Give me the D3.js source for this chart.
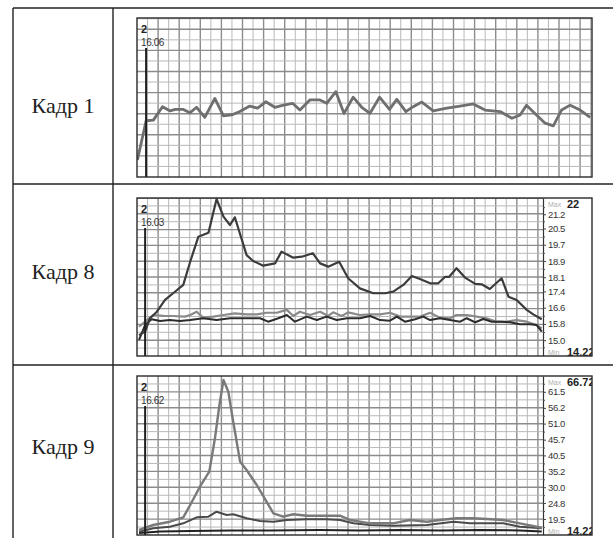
<!DOCTYPE html>
<html>
<head>
<meta charset="utf-8">
<script src="https://cdn.jsdelivr.net/npm/d3@7"></script>
<style>
  body { margin: 0; background: #fff; }
  .lbl { font-family: "Liberation Sans Narrow", "Arial Narrow", "Liberation Sans", sans-serif; }
</style>
</head>
<body>
<script>
// row labels and cursor readouts
const frameNames = ["Кадр 1", "Кадр 8", "Кадр 9"];
const cursorIds = ["2", "2", "2"];
const cursorValues = ["16.06", "16.03", "16.62"];

// Кадр 1 — one trace, no scale shown
const f1Time = [0.1, 2.0, 3.6, 5.6, 7.3, 8.4, 10.2, 11.6, 13.1, 14.9, 17.1, 19.0, 20.8, 22.6, 24.8, 26.5, 28.3, 30.3, 32.2, 34.2, 35.8, 38.0, 40.2, 41.7, 43.7, 45.5, 47.5, 49.4, 51.2, 53.3, 55.5, 57.1, 59.1, 60.7, 62.6, 65.1, 68.1, 71.0, 73.9, 76.5, 79.8, 82.4, 84.2, 85.6, 87.8, 89.7, 91.5, 93.3, 95.2, 97.4, 99.6];
const f1Temp = [14.78, 16.06, 16.08, 16.52, 16.38, 16.43, 16.43, 16.32, 16.50, 16.17, 16.79, 16.22, 16.25, 16.36, 16.54, 16.47, 16.68, 16.50, 16.57, 16.63, 16.41, 16.74, 16.74, 16.63, 17.01, 16.30, 16.83, 16.50, 16.30, 16.83, 16.43, 16.76, 16.36, 16.52, 16.67, 16.38, 16.47, 16.54, 16.61, 16.41, 16.36, 16.14, 16.25, 16.57, 16.25, 15.98, 15.89, 16.41, 16.57, 16.41, 16.17];

// Кадр 8 — three traces
const f8TimeA = [0.5, 2.0, 3.2, 4.9, 6.9, 8.9, 11.4, 13.1, 15.1, 17.6, 19.6, 21.3, 22.9, 24.1, 27.0, 28.6, 31.1, 34.0, 35.6, 38.5, 40.6, 43.3, 45.1, 47.1, 49.8, 52.0, 54.9, 58.2, 61.1, 63.1, 65.6, 67.7, 69.7, 72.2, 74.2, 75.9, 76.9, 78.7, 80.8, 83.3, 84.9, 86.9, 89.8, 91.5, 93.5, 96.0, 97.6, 99.7];
const f8TempA = [15.25, 15.42, 16.08, 16.40, 16.98, 17.31, 17.72, 18.86, 20.09, 20.29, 21.95, 21.08, 20.67, 21.05, 19.19, 18.90, 18.67, 18.78, 19.36, 19.06, 19.11, 19.28, 18.78, 18.62, 18.86, 18.05, 17.55, 17.31, 17.31, 17.39, 17.72, 18.16, 18.01, 17.80, 17.80, 18.12, 18.12, 18.54, 18.08, 17.77, 17.75, 17.52, 18.05, 17.14, 16.98, 16.49, 16.27, 16.03];
const f8TimeB = [0.5, 2.0, 4.0, 6.5, 8.9, 11.8, 13.1, 14.7, 16.3, 18.8, 21.3, 24.1, 27.0, 29.5, 31.9, 34.4, 36.9, 38.5, 40.1, 42.6, 45.1, 47.1, 48.3, 50.4, 52.0, 54.9, 57.4, 59.9, 62.3, 64.8, 67.2, 69.7, 72.2, 74.6, 77.1, 78.7, 81.2, 83.7, 86.1, 88.6, 91.1, 93.5, 96.0, 98.4, 99.7];
const f8TempB = [15.66, 15.91, 16.24, 16.20, 16.19, 16.16, 16.24, 16.40, 16.11, 16.16, 16.24, 16.32, 16.27, 16.27, 16.35, 16.35, 16.49, 16.19, 16.40, 16.24, 16.40, 16.19, 16.37, 16.19, 16.37, 16.24, 16.27, 16.27, 16.35, 16.16, 16.16, 16.16, 16.35, 16.11, 16.08, 16.24, 16.24, 16.16, 16.08, 15.91, 15.91, 15.99, 15.91, 15.75, 15.58];
const f8TimeC = [0.5, 2.0, 3.6, 5.7, 8.1, 10.6, 13.1, 16.3, 19.6, 22.9, 26.2, 30.3, 32.3, 34.8, 36.9, 38.9, 41.8, 44.3, 46.7, 49.2, 51.7, 54.9, 57.4, 59.9, 62.3, 64.0, 66.0, 68.5, 70.5, 72.2, 74.6, 77.1, 79.6, 81.2, 83.3, 85.3, 87.4, 89.4, 91.9, 94.3, 96.8, 98.4, 99.7];
const f8TempC = [15.01, 15.75, 16.03, 15.94, 15.99, 15.94, 15.99, 16.08, 15.99, 16.08, 16.08, 16.08, 15.91, 16.08, 16.24, 15.91, 16.16, 15.99, 16.16, 15.99, 16.08, 16.08, 16.19, 15.99, 15.96, 16.16, 15.91, 16.03, 16.16, 15.99, 16.08, 15.99, 15.91, 16.08, 15.88, 16.04, 15.91, 15.91, 15.88, 15.78, 15.78, 15.75, 15.42];
const f8Ticks = [21.2, 20.5, 19.7, 18.9, 18.1, 17.4, 16.6, 15.8, 15.0];
const f8Range = [14.22, 22];

// Кадр 9 — three traces
const f9TimeA = [0.5, 4.0, 8.1, 11.4, 13.1, 15.5, 17.8, 19.2, 20.3, 21.3, 22.5, 23.7, 25.4, 27.0, 29.5, 31.9, 33.6, 36.0, 38.5, 41.8, 46.7, 50.0, 52.5, 57.4, 63.1, 67.2, 71.4, 74.6, 78.7, 82.8, 86.1, 90.2, 94.3, 99.7];
const f9TempA = [15.87, 17.52, 18.61, 20.06, 24.13, 30.17, 35.12, 46.15, 57.15, 65.40, 61.54, 51.63, 38.42, 35.68, 30.73, 25.22, 21.39, 20.26, 21.06, 20.59, 20.59, 20.59, 19.17, 18.08, 18.08, 19.17, 18.61, 19.17, 19.73, 19.73, 19.50, 19.17, 18.08, 16.63];
const f9TimeB = [0.5, 4.0, 8.1, 11.4, 14.7, 17.6, 19.6, 22.1, 23.7, 27.0, 30.3, 33.6, 36.9, 41.8, 46.7, 50.0, 53.3, 57.4, 63.1, 71.4, 78.0, 82.0, 90.2, 94.3, 99.7];
const f9TempB = [15.31, 16.43, 16.96, 18.08, 20.06, 20.26, 21.91, 20.82, 21.06, 19.73, 18.84, 18.61, 19.17, 19.40, 19.40, 19.17, 18.08, 17.52, 17.29, 17.52, 18.61, 18.08, 18.08, 16.96, 16.43];
const f9TimeC = [0.5, 5.7, 13.1, 22.9, 32.8, 45.1, 54.9, 64.8, 74.6, 84.5, 94.3, 99.7];
const f9TempC = [14.88, 15.38, 15.54, 15.71, 15.71, 15.87, 15.71, 15.87, 15.71, 15.87, 15.71, 15.38];
const f9Ticks = [61.5, 56.2, 51.0, 45.7, 40.5, 35.2, 30.0, 24.8, 19.5];
const f9Range = [14.22, 66.72];

const f1Range = [14.22, 19.42]; // no scale drawn for this frame

const zip = (t, v) => t.map((d, i) => [d, v[i]]);

const W = 613, H = 538;
const svg = d3.select("body").append("svg")
    .attr("width", W)
    .attr("height", H);

// Table lines
const tLeft = 13, tDiv = 113, tTop = 8, rowLines = [184, 365];
const tbl = svg.append("g").attr("stroke", "#222").attr("stroke-width", 1.4);
tbl.append("line").attr("x1", tLeft).attr("x2", W).attr("y1", tTop).attr("y2", tTop);
rowLines.forEach(y => tbl.append("line").attr("x1", tLeft).attr("x2", W).attr("y1", y).attr("y2", y));
tbl.append("line").attr("x1", tLeft).attr("x2", tLeft).attr("y1", tTop).attr("y2", H);
tbl.append("line").attr("x1", tDiv).attr("x2", tDiv).attr("y1", tTop).attr("y2", H);

const labelY = [105, 271, 446];
frameNames.forEach((name, i) => {
    svg.append("text")
        .attr("x", (tLeft + tDiv) / 2)
        .attr("y", labelY[i])
        .attr("text-anchor", "middle")
        .attr("dominant-baseline", "central")
        .style("font-family", "'Liberation Serif', 'Times New Roman', serif")
        .style("font-size", "22px")
        .attr("fill", "#222")
        .text(name);
});

// Panels
const panelLeft = 137, panelRight = 592, axisX = 543;
const panels = [
    { top: 18, h: 159, right: panelRight, domain: f1Range, ticks: null,
      series: [{ d: zip(f1Time, f1Temp), c: "#6f6f6f", w: 2.8 }] },
    { top: 198, h: 158, right: axisX, domain: f8Range, ticks: f8Ticks,
      series: [{ d: zip(f8TimeB, f8TempB), c: "#8a8a8a", w: 2.2 },
               { d: zip(f8TimeC, f8TempC), c: "#2c2c2c", w: 2 },
               { d: zip(f8TimeA, f8TempA), c: "#3c3c3c", w: 2.2 }] },
    { top: 376, h: 159, right: axisX, domain: f9Range, ticks: f9Ticks,
      series: [{ d: zip(f9TimeC, f9TempC), c: "#222", w: 2 },
               { d: zip(f9TimeB, f9TempB), c: "#4a4a4a", w: 2 },
               { d: zip(f9TimeA, f9TempA), c: "#7a7a7a", w: 2.4 }] }
];

panels.forEach((p, pi) => {
    const bottom = p.top + p.h;
    const x = d3.scaleLinear().domain([0, 100]).range([panelLeft, p.right]);
    const y = d3.scaleLinear().domain(p.domain).range([bottom, p.top]);

    const clipId = "clip" + pi;
    svg.append("clipPath").attr("id", clipId)
        .append("rect").attr("x", panelLeft).attr("y", p.top)
        .attr("width", panelRight - panelLeft).attr("height", p.h);
    const plotClip = "pclip" + pi;
    svg.append("clipPath").attr("id", plotClip)
        .append("rect").attr("x", panelLeft).attr("y", p.top)
        .attr("width", p.right - panelLeft).attr("height", p.h);

    const g = svg.append("g").attr("clip-path", `url(#${clipId})`);
    g.append("rect").attr("x", panelLeft).attr("y", p.top)
        .attr("width", panelRight - panelLeft).attr("height", p.h).attr("fill", "#fff");

    const grid = g.append("g").attr("clip-path", `url(#${plotClip})`);
    const gridColor = ["#b9b9b9", "#8c8c8c"];
    const gridWidth = [1, 1.4];
    // vertical grid: major every 21.1px with a lighter line halfway
    const vStep = 21.1;
    d3.range(panelLeft + vStep / 2, p.right, vStep / 2).forEach((gx, k) => {
        const kind = (k + 1) % 2 === 0 ? 1 : 0;
        grid.append("line").attr("x1", gx).attr("x2", gx).attr("y1", p.top).attr("y2", bottom)
            .attr("stroke", gridColor[kind]).attr("stroke-width", gridWidth[kind]);
    });
    // horizontal grid
    const hStep = p.ticks ? p.h / 10 : 21.1;
    d3.range(bottom - hStep / 2, p.top, -hStep / 2).forEach((gy, k) => {
        const kind = (k + 1) % 2 === 0 ? 1 : 0;
        grid.append("line").attr("x1", panelLeft).attr("x2", p.right).attr("y1", gy).attr("y2", gy)
            .attr("stroke", gridColor[kind]).attr("stroke-width", gridWidth[kind]);
    });

    // traces
    const line = d3.line().x(d => x(d[0])).y(d => y(d[1]));
    const traces = g.append("g").attr("clip-path", `url(#${plotClip})`);
    p.series.forEach(s => {
        traces.append("path").datum(s.d)
            .attr("d", line)
            .attr("fill", "none")
            .attr("stroke", s.c)
            .attr("stroke-width", s.w)
            .attr("stroke-linejoin", "round");
    });

    // cursor
    const cursorX = x(2);
    g.append("line").attr("x1", cursorX).attr("x2", cursorX)
        .attr("y1", p.top + 30).attr("y2", bottom)
        .attr("stroke", "#1e1e1e").attr("stroke-width", 2);
    g.append("text").attr("class", "lbl")
        .attr("x", panelLeft + 4).attr("y", p.top + 15)
        .style("font-size", "11px").style("font-weight", "bold").attr("fill", "#222")
        .text(cursorIds[pi]);
    g.append("text").attr("class", "lbl")
        .attr("x", panelLeft + 4).attr("y", p.top + 28)
        .style("font-size", "10px").style("letter-spacing", "-0.4px").attr("fill", "#333")
        .text(cursorValues[pi]);

    // right value axis
    if (p.ticks) {
        const step = p.ticks[0] - p.ticks[1];
        const minor = d3.pairs(p.ticks).map(([a, b]) => (a + b) / 2)
            .concat([p.ticks[0] + step / 2, p.ticks[p.ticks.length - 1] - step / 2]);
        g.append("g")
            .attr("transform", `translate(${axisX},0)`)
            .call(d3.axisRight(y).tickValues(minor).tickSize(2).tickSizeOuter(0).tickFormat(""))
            .call(a => a.select(".domain").attr("stroke", "#333").attr("stroke-width", 1.2))
            .call(a => a.selectAll(".tick line").attr("stroke", "#555"));
        const ax = g.append("g")
            .attr("transform", `translate(${axisX},0)`)
            .call(d3.axisRight(y).tickValues(p.ticks).tickSize(3).tickPadding(2).tickSizeOuter(0)
                .tickFormat(d3.format(".1f")));
        ax.select(".domain").remove();
        ax.selectAll(".tick line").attr("stroke", "#444");
        ax.selectAll(".tick text")
            .attr("class", "lbl")
            .style("font-size", "9.5px")
            .style("letter-spacing", "-0.4px")
            .attr("fill", "#333");

        const ext = [["Max", p.domain[1], p.top + 6], ["Min", p.domain[0], bottom - 4]];
        ext.forEach(([name, val, ty]) => {
            g.append("text").attr("class", "lbl")
                .attr("x", axisX + 5).attr("y", ty).attr("dominant-baseline", "central")
                .style("font-size", "7px").attr("fill", "#b0b0b0").text(name);
            g.append("text").attr("class", "lbl")
                .attr("x", axisX + 24).attr("y", ty).attr("dominant-baseline", "central")
                .style("font-size", "11px").style("font-weight", "bold").attr("fill", "#222")
                .text(String(val));
        });
    }

    // panel border
    svg.append("rect").attr("x", panelLeft).attr("y", p.top)
        .attr("width", panelRight - panelLeft).attr("height", p.h)
        .attr("fill", "none").attr("stroke", "#2a2a2a").attr("stroke-width", 1.4);
});
</script>
</body>
</html>
